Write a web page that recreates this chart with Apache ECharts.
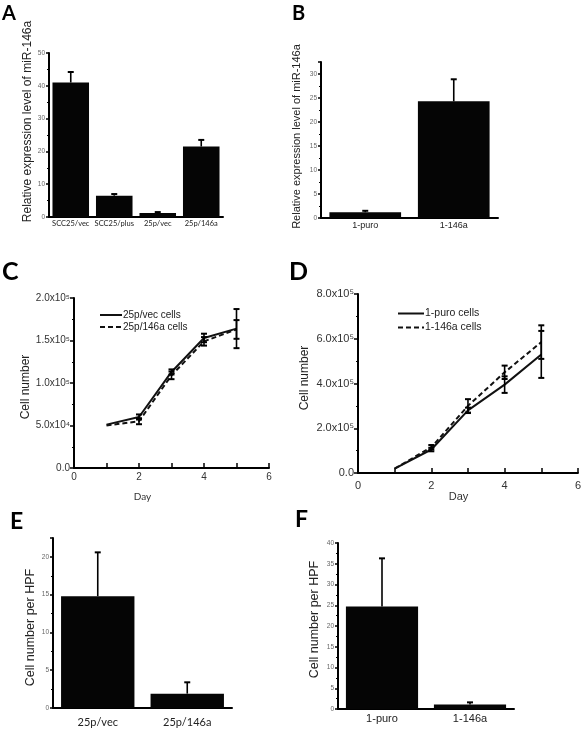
<!DOCTYPE html>
<html><head><meta charset="utf-8">
<script src="https://cdn.jsdelivr.net/npm/echarts/dist/echarts.min.js"></script>
<style>html,body{margin:0;padding:0;background:#fff}#c{width:584px;height:733px}</style>
</head><body><div id="c"></div>
<script>
// ---- data ----
const catsA = ['SCC25/vec', 'SCC25/plus', '25p/vec', '25p/146a'];
const valsA = [41, 6.5, 1.2, 21.5];
const errA  = [3.2, 0.5, 0.3, 2.0];

const catsB = ['1-puro', '1-146a'];
const valsB = [1.2, 24.3];
const errB  = [0.3, 4.6];

const daysC = [1, 2, 3, 4, 5];
const vecC     = [51000, 60000, 113000, 153000, 164000];
const vecErrC  = [0, 3000, 3000, 5000, 23000];
const p146C    = [50000, 55000, 109000, 149000, 163000];
const p146ErrC = [0, 3500, 4500, 5000, 11000];

const daysD = [1, 2, 3, 4, 5];
const puroD     = [20000, 105000, 280000, 395000, 530000];
const puroErrD  = [0, 8000, 12000, 37000, 105000];
const p146D     = [20000, 115000, 300000, 450000, 585000];
const p146ErrD  = [0, 10000, 30000, 30000, 75000];

const catsE = ['25p/vec', '25p/146a'];
const valsE = [14.8, 1.9];
const errE  = [5.8, 1.5];

const catsF = ['1-puro', '1-146a'];
const valsF = [24.7, 1.1];
const errF  = [11.6, 0.5];

const seriesNamesC = ['25p/vec cells', '25p/146a cells'];
const seriesNamesD = ['1-puro cells', '1-146a cells'];

// ---- helpers ----
const BLACK = '#000';
const calibri = 'Lato, "Open Sans", sans-serif';
const arial = '"Liberation Sans", Arial, sans-serif';
const SUP = {'0':'\u2070','1':'\u00B9','2':'\u00B2','3':'\u00B3','4':'\u2074','5':'\u2075','6':'\u2076','7':'\u2077','8':'\u2078','9':'\u2079'};

const grids = [
  {left: 49,  top: 53,  width: 174, height: 164},
  {left: 321, top: 62,  width: 177, height: 156},
  {left: 74,  top: 298, width: 195, height: 170},
  {left: 358, top: 294, width: 220, height: 179},
  {left: 53,  top: 538, width: 179, height: 170},
  {left: 338, top: 543, width: 176, height: 166}
];

const xAxes = [], yAxes = [], series = [];

function barErrSeries(xi, yi, vals, errs) {
  return {
    type: 'custom', xAxisIndex: xi, yAxisIndex: yi, z: 10, silent: true,
    data: vals.map((v, i) => [i, v, errs[i]]),
    renderItem: function (params, api) {
      const x = api.value(0), v = api.value(1), e = api.value(2);
      const p0 = api.coord([x, v]), p1 = api.coord([x, v + e]);
      const hw = 3;
      return {type: 'group', children: [
        {type: 'line', shape: {x1: p0[0], y1: p0[1], x2: p1[0], y2: p1[1]}, style: {stroke: BLACK, lineWidth: 1.6}},
        {type: 'line', shape: {x1: p1[0] - hw, y1: p1[1], x2: p1[0] + hw, y2: p1[1]}, style: {stroke: BLACK, lineWidth: 2}}
      ]};
    }
  };
}

function lineErrSeries(xi, yi, xs, vals, errs) {
  return {
    type: 'custom', xAxisIndex: xi, yAxisIndex: yi, z: 10, silent: true,
    data: xs.map((d, i) => [d, vals[i], errs[i]]),
    renderItem: function (params, api) {
      const x = api.value(0), v = api.value(1), e = api.value(2);
      if (!e) return null;
      const pt = api.coord([x, v + e]), pb = api.coord([x, v - e]);
      const hw = 3;
      return {type: 'group', children: [
        {type: 'line', shape: {x1: pt[0], y1: pt[1], x2: pb[0], y2: pb[1]}, style: {stroke: BLACK, lineWidth: 1.6}},
        {type: 'line', shape: {x1: pt[0] - hw, y1: pt[1], x2: pt[0] + hw, y2: pt[1]}, style: {stroke: BLACK, lineWidth: 2}},
        {type: 'line', shape: {x1: pb[0] - hw, y1: pb[1], x2: pb[0] + hw, y2: pb[1]}, style: {stroke: BLACK, lineWidth: 2}}
      ]};
    }
  };
}

function addBarPanel(gi, cats, vals, errs, cfg) {
  const xi = xAxes.length;
  xAxes.push({
    type: 'category', gridIndex: gi, data: cats, position: 'bottom',
    axisLine: {lineStyle: {color: BLACK, width: 2}},
    axisTick: {alignWithLabel: true, length: 4, lineStyle: {color: BLACK, width: 1.5}},
    axisLabel: {interval: 0, fontSize: cfg.labelSize, fontFamily: cfg.labelFamily, color: '#222', margin: cfg.labelMargin}
  });
  xAxes.push({
    type: 'category', gridIndex: gi, data: cats, position: 'bottom',
    axisLine: {show: false},
    axisTick: {alignWithLabel: false, length: 3, lineStyle: {color: BLACK, width: 1.5}},
    axisLabel: {show: false}
  });
  const yi = yAxes.length;
  yAxes.push({
    type: 'value', gridIndex: gi, min: 0, max: cfg.yMax, interval: cfg.yInt,
    splitLine: {show: false},
    axisLine: {show: true, lineStyle: {color: BLACK, width: 2}},
    axisTick: {show: true, length: 3, lineStyle: {color: BLACK, width: 1.5}},
    minorTick: {show: true, splitNumber: 2, length: 2, lineStyle: {color: BLACK, width: 1.2}},
    axisLabel: {fontSize: 6.5, color: '#666', fontFamily: arial, margin: 4, showMaxLabel: cfg.showMax,
      formatter: v => (v % cfg.yInt === 0 ? String(v) : '')},
    name: cfg.yName, nameLocation: 'middle', nameGap: cfg.nameGap,
    nameTextStyle: {fontSize: cfg.nameSize, fontFamily: arial, color: '#222', padding: cfg.namePad}
  });
  series.push({
    type: 'bar', xAxisIndex: xi, yAxisIndex: yi, data: vals, barWidth: cfg.barWidth,
    itemStyle: {color: '#050505'}, silent: true
  });
  series.push(barErrSeries(xi, yi, vals, errs));
}

function sci(v) {
  if (v === 0) return '0.0';
  const e = Math.floor(Math.log10(v) + 1e-9);
  const m = v / Math.pow(10, e);
  return m.toFixed(1) + 'x10' + String(e).split('').map(c => SUP[c]).join('');
}

function addLinePanel(gi, xs, a, aErr, b, bErr, names, cfg) {
  const xi = xAxes.length;
  xAxes.push({
    type: 'value', gridIndex: gi, min: 0, max: 6, interval: 1,
    splitLine: {show: false},
    axisLine: {lineStyle: {color: BLACK, width: 2}},
    axisTick: {inside: true, length: 5, lineStyle: {color: BLACK, width: 1.5}},
    axisLabel: {fontSize: cfg.xLabelSize, fontFamily: arial, color: '#333', margin: cfg.xLabelMargin,
      formatter: v => (v % 2 === 0 ? String(v) : '')},
    name: 'Day', nameLocation: 'middle', nameGap: cfg.dayGap,
    nameTextStyle: {fontSize: cfg.daySize, fontFamily: cfg.dayFamily, color: '#333', padding: cfg.dayPad}
  });
  const yi = yAxes.length;
  yAxes.push({
    type: 'value', gridIndex: gi, min: 0, max: cfg.yMax, interval: cfg.yInt,
    splitLine: {show: false},
    axisLine: {show: true, lineStyle: {color: BLACK, width: 2}},
    axisTick: {show: true, length: 4, lineStyle: {color: BLACK, width: 1.5}},
    minorTick: {show: true, splitNumber: 2, length: 2, lineStyle: {color: BLACK, width: 1.2}},
    axisLabel: {fontSize: cfg.yLabelSize, fontFamily: arial, color: '#333', margin: 4, formatter: sci},
    name: 'Cell number', nameLocation: 'middle', nameGap: cfg.nameGap,
    nameTextStyle: {fontSize: cfg.nameSize, fontFamily: arial, color: '#222', padding: cfg.namePad}
  });
  series.push({
    name: names[0], type: 'line', xAxisIndex: xi, yAxisIndex: yi,
    data: xs.map((d, i) => [d, a[i]]), symbol: 'none', showSymbol: false, silent: true,
    lineStyle: {color: '#111', width: 2, type: 'solid'}, itemStyle: {color: '#111'}
  });
  series.push({
    name: names[1], type: 'line', xAxisIndex: xi, yAxisIndex: yi,
    data: xs.map((d, i) => [d, b[i]]), symbol: 'none', showSymbol: false, silent: true,
    lineStyle: {color: '#111', width: 2, type: [5, 3]}, itemStyle: {color: '#111'}
  });
  series.push(lineErrSeries(xi, yi, xs, a, aErr));
  series.push(lineErrSeries(xi, yi, xs, b, bErr));
}

addBarPanel(0, catsA, valsA, errA, {yMax: 50, yInt: 10, showMax: true, labelSize: 7.5, labelFamily: calibri, labelMargin: 3,
  yName: 'Relative expression level of miR-146a', nameGap: 15, nameSize: 12, namePad: [0, 0, 0, 27], barWidth: '84%'});
addBarPanel(1, catsB, valsB, errB, {yMax: 32.5, yInt: 5, showMax: false, labelSize: 9, labelFamily: arial, labelMargin: 3,
  yName: 'Relative expression level of miR-146a', nameGap: 19, nameSize: 11, namePad: [0, 0, 0, 7], barWidth: '81%'});
addLinePanel(2, daysC, vecC, vecErrC, p146C, p146ErrC, seriesNamesC, {yMax: 200000, yInt: 50000, xLabelSize: 10, xLabelMargin: 4,
  dayGap: 24, daySize: 10, dayFamily: calibri, dayPad: [0, 58, 0, 0], yLabelSize: 10, nameGap: 40, nameSize: 12, namePad: [0, 8, 0, 0]});
addLinePanel(3, daysD, puroD, puroErrD, p146D, p146ErrD, seriesNamesD, {yMax: 800000, yInt: 200000, xLabelSize: 11, xLabelMargin: 7,
  dayGap: 16, daySize: 11, dayFamily: arial, dayPad: [0, 19, 0, 0], yLabelSize: 11, nameGap: 47, nameSize: 12, namePad: [0, 0, 0, 11]});
addBarPanel(4, catsE, valsE, errE, {yMax: 22.5, yInt: 5, showMax: false, labelSize: 11, labelFamily: calibri, labelMargin: 9,
  yName: 'Cell number per HPF', nameGap: 16, nameSize: 12.5, namePad: [0, 9, 0, 0], barWidth: '82%'});
addBarPanel(5, catsF, valsF, errF, {yMax: 40, yInt: 5, showMax: true, labelSize: 11, labelFamily: arial, labelMargin: 4,
  yName: 'Cell number per HPF', nameGap: 17, nameSize: 12.5, namePad: [0, 0, 0, 13], barWidth: '82%'});

function letter(t, x, y, size) {
  return {type: 'text', left: x, top: y, style: {text: t, fontSize: size, fontWeight: 'bold', fontFamily: calibri, fill: '#000'}};
}

const legendCommon = {orient: 'vertical', itemHeight: 8, selectedMode: false,
  itemStyle: {opacity: 0}, lineStyle: {width: 2, color: '#111'}};

const option = {
  animation: false,
  backgroundColor: '#fff',
  grid: grids,
  xAxis: xAxes,
  yAxis: yAxes,
  legend: [
    Object.assign({}, legendCommon, {data: seriesNamesC, left: 94, top: 305, itemWidth: 22, itemGap: 2,
      textStyle: {fontSize: 10, fontFamily: arial, color: '#222', padding: [0, 0, 0, -4]}}),
    Object.assign({}, legendCommon, {data: seriesNamesD, left: 392, top: 303, itemWidth: 26, itemGap: 3,
      textStyle: {fontSize: 10.5, fontFamily: arial, color: '#222', padding: [0, 0, 0, -4]}})
  ],
  graphic: [
    letter('A', 2, 4, 20),
    letter('B', 292, 4, 20),
    letter('C', 2, 259, 25),
    letter('D', 289, 259, 25),
    letter('E', 10, 510, 23),
    letter('F', 295, 508, 23)
  ],
  series: series
};

const chart = echarts.init(document.getElementById('c'), null, {renderer: 'canvas'});
chart.setOption(option);
</script>
</body></html>
